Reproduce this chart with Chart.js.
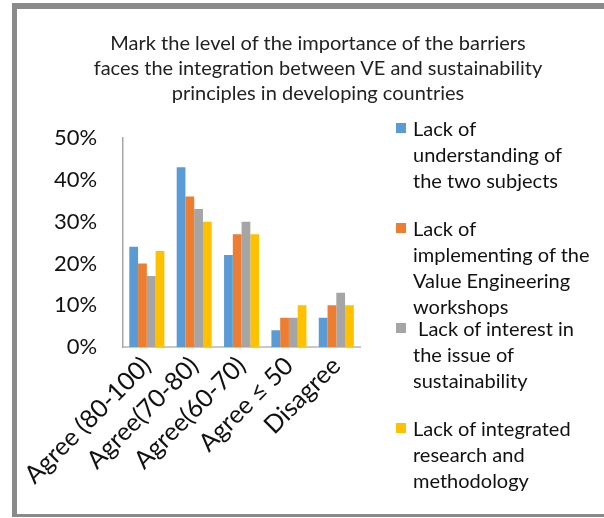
<!DOCTYPE html>
<html>
<head>
<meta charset="utf-8">
<script src="https://cdn.jsdelivr.net/npm/chart.js@4.4.1/dist/chart.umd.min.js"></script>
<style>
  html, body { margin: 0; padding: 0; background: #fff; }
  body { width: 604px; height: 518px; position: relative; overflow: hidden; font-family: Lato, "Open Sans", sans-serif; }
  #frame { position: absolute; left: 12px; top: 3px; width: 620px; height: 514px; box-sizing: border-box;
           border-left: 5px solid #8a8a8a; border-top: 6px solid #8a8a8a; border-bottom: 3px solid #8a8a8a; }
  #wrap { position: absolute; left: 0; top: 0; width: 604px; height: 518px; }
  #title { position: absolute; left: 60px; width: 516px; top: 30px; text-align: center;
           font-size: 20px; line-height: 25px; color: #222; }
  #legend { position: absolute; left: 394px; top: 0; width: 210px; }
  .item { position: absolute; left: 0; font-size: 20px; line-height: 26px; color: #111; }
  .item .box { position: absolute; left: 2px; top: 8px; width: 10px; height: 10px; }
  .item .txt { margin-left: 19px; white-space: nowrap; }
</style>
</head>
<body>
<div id="frame"></div>
<div id="wrap"><canvas id="c" width="604" height="518"></canvas></div>
<div id="title"></div>
<div id="legend"></div>
<script>
// Chart title, categories and series (percent of respondents)
const titleLines = [
  "Mark the level of the importance of the barriers",
  "faces the integration between VE and sustainability",
  "principles in developing countries"
];
const categories = ["Agree (80-100)", "Agree(70-80)", "Agree(60-70)", "Agree \u2264 50", "Disagree"];
const yTicks = [0, 10, 20, 30, 40, 50];

const seriesNames = [
  ["Lack of", "understanding of", "the two subjects"],
  ["Lack of", "implementing of the", "Value Engineering", "workshops"],
  ["\u00a0Lack of interest in", "the issue of", "sustainability"],
  ["Lack of integrated", "research and", "methodology"]
];
const understanding = [24, 43, 22, 4, 7];
const implementing  = [20, 36, 27, 7, 10];
const interest      = [17, 33, 30, 7, 13];
const integrated    = [23, 30, 27, 10, 10];
const seriesColors = ["#5B9BD5", "#ED7D31", "#A5A5A5", "#FFC000"];

document.getElementById("title").innerHTML = titleLines.join("<br>");

const chart = new Chart(document.getElementById("c"), {
  type: "bar",
  data: {
    labels: categories,
    datasets: [understanding, implementing, interest, integrated].map((d, i) => ({
      label: seriesNames[i].join(" "),
      data: d,
      backgroundColor: seriesColors[i],
      borderWidth: 0,
      categoryPercentage: 0.74,
      barPercentage: 1.0
    }))
  },
  options: {
    responsive: false,
    animation: false,
    layout: { padding: { left: 28, right: 244, top: 138, bottom: 24 } },
    plugins: { legend: { display: false }, title: { display: false }, tooltip: { enabled: false } },
    scales: {
      x: {
        grid: { display: false, drawTicks: false },
        border: { display: true, color: "#c8c8c8", width: 2 },
        ticks: {
          autoSkip: false, minRotation: 45, maxRotation: 45, padding: 4,
          color: "#111", font: { family: "Lato", size: 25 }
        }
      },
      y: {
        min: 0, max: 50,
        afterBuildTicks: axis => { axis.ticks = yTicks.map(v => ({ value: v })); },
        grid: { display: false, drawTicks: false },
        border: { display: true, color: "#a6a6a6", width: 1.5 },
        ticks: {
          padding: 26, color: "#111", font: { family: "Lato", size: 22 },
          callback: v => v + "%"
        }
      }
    }
  }
});

// Legend with wrapped entries, built from the chart's own datasets
const legend = document.getElementById("legend");
chart.data.datasets.forEach((ds, i) => {
  const el = document.createElement("div");
  el.className = "item";
  el.style.top = (115 + i * 100) + "px";
  el.innerHTML = '<span class="box" style="background:' + ds.backgroundColor + '"></span>' +
                 '<div class="txt">' + seriesNames[i].join("<br>") + '</div>';
  legend.appendChild(el);
});
</script>
</body>
</html>
